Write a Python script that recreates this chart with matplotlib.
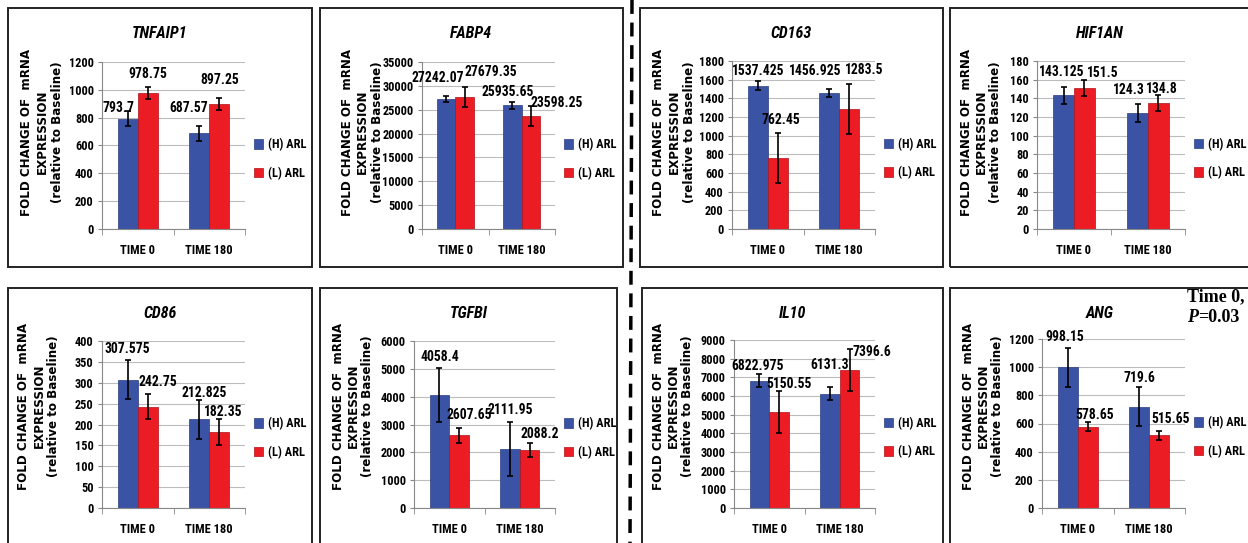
import matplotlib
matplotlib.use("Agg")
import matplotlib.pyplot as plt
from matplotlib import font_manager as fm
from matplotlib.patches import Rectangle
from matplotlib.lines import Line2D
import numpy as np

# data
genes = ['TNFAIP1', 'FABP4', 'CD163', 'HIF1AN', 'CD86', 'TGFBI', 'IL10', 'ANG']
times = ['TIME 0', 'TIME 180']
groups = ['(H) ARL', '(L) ARL']
h_arl = [[793.7, 687.57], [27242.07, 25935.65], [1537.425, 1456.925], [143.125, 124.3],
         [307.575, 212.825], [4058.4, 2111.95], [6822.975, 6131.3], [998.15, 719.6]]
l_arl = [[978.75, 897.25], [27679.35, 23598.25], [762.45, 1283.5], [151.5, 134.8],
         [242.75, 182.35], [2607.65, 2088.2], [5150.55, 7396.6], [578.65, 515.65]]
h_err = [[55, 55], [700, 700], [45, 45], [9.5, 10], [47, 47], [970, 980], [350, 350], [140, 140]]
l_err = [[45, 45], [2100, 2100], [265, 265], [8.5, 8.5], [30, 31], [260, 260], [1130, 1130], [33, 33]]
y_max = [1200, 35000, 1800, 180, 400, 6000, 9000, 1200]
y_step = [200, 5000, 200, 20, 50, 1000, 1000, 200]

# layout in pixels (x0, y0, x1, y1 from top-left)
W, H = 1248, 543
axes_px = [(102, 62, 245, 229), (422, 62, 555, 229), (732, 61, 875, 229), (1037, 61, 1185, 229),
           (102, 341, 245, 508), (414, 341, 555, 508), (734, 340, 875, 508), (1042, 339, 1185, 508)]
box_px = [(8, 8, 312, 267), (320, 8, 623, 267), (640, 8, 943, 267), (950, 8, 1262, 267),
          (8, 288, 312, 560), (320, 288, 617, 560), (642, 288, 943, 560), (950, 288, 1262, 560)]
ylab_dx = [34, 42, 34, 31, 31, 33, 31, 33]
# value-label nudges (dx, dy) in pixels from the top of each error bar: H0, L0, H180, L180
lab_off = [[(-9, 3), (0, 13), (-10, 18), (0, 18)],
           [(-8, 18), (26, 15), (-5, 10), (26, 3)],
           [(0, 10), (3, 13), (-14, 18), (15, 14)],
           [(-2, 15), (18, 7), (-9, 14), (3, 6)],
           [(0, 11), (10, 12), (5, 7), (4, 7)],
           [(0, 11), (10, 13), (0, 12), (10, 9)],
           [(-2, 8), (10, 7), (0, 22), (22, -3)],
           [(-3, 11), (7, 7), (0, 9), (11, 12)]]

# pick a narrow sans (Calibri-like) if one is installed
names = {f.name for f in fm.fontManager.ttflist}
cond = [f for f in fm.fontManager.ttflist if 'Condensed' in f.fname or 'Narrow' in f.fname]
narrow = None
for cand in ['Liberation Sans Narrow', 'Roboto Condensed', 'Open Sans Condensed']:
    if cand in names:
        narrow = cand
        break
stretch = 'normal'
if narrow is None and any(f.name == 'DejaVu Sans' for f in cond):
    narrow = 'DejaVu Sans'
    stretch = 'condensed'
if narrow is None:
    narrow = 'Roboto' if 'Roboto' in names else 'Liberation Sans'
plt.rcParams['font.family'] = [narrow, 'DejaVu Sans']
plt.rcParams['font.stretch'] = stretch

blue = '#3A53A4'
red = '#EC1C24'

fig = plt.figure(figsize=(W / 100, H / 100), dpi=100)

def fx(x):
    return x / W

def fy(y):
    return 1 - y / H

bw = 0.28
x = np.arange(len(times))

for i, g in enumerate(genes):
    x0, y0, x1, y1 = axes_px[i]
    ax = fig.add_axes([fx(x0), fy(y1), (x1 - x0) / W, (y1 - y0) / H])
    ax.bar(x - bw / 2, h_arl[i], bw, color=blue, edgecolor='#2a3d80', linewidth=0.5,
           label=groups[0], zorder=2)
    ax.bar(x + bw / 2, l_arl[i], bw, color=red, edgecolor='#b01018', linewidth=0.5,
           label=groups[1], zorder=2)
    ax.errorbar(x - bw / 2, h_arl[i], yerr=h_err[i], fmt='none', ecolor='black',
                elinewidth=1.2, capsize=2, capthick=1.2, zorder=3)
    ax.errorbar(x + bw / 2, l_arl[i], yerr=l_err[i], fmt='none', ecolor='black',
                elinewidth=1.2, capsize=2, capthick=1.2, zorder=3)

    ax.set_xlim(-0.5, 1.5)
    ax.set_ylim(0, y_max[i])
    ax.set_yticks(np.arange(0, y_max[i] + y_step[i] / 2, y_step[i]))
    ax.yaxis.grid(True, color='#bcbcbc', linewidth=0.8, zorder=0)
    ax.set_axisbelow(True)
    ax.set_xticks(x)
    ax.set_xticklabels(times, fontsize=9, fontweight='bold')
    ax.set_xticks([-0.5, 0.5, 1.5], minor=True)
    ax.tick_params(axis='x', which='major', length=0, pad=11)
    ax.tick_params(axis='x', which='minor', length=4, color='#888888')
    ax.tick_params(axis='y', labelsize=8.8, length=3, color='#888888', pad=3)
    for t in ax.get_yticklabels():
        t.set_fontweight('bold')
    for s in ['top', 'right']:
        ax.spines[s].set_visible(False)
    for s in ['left', 'bottom']:
        ax.spines[s].set_color('#888888')
        ax.spines[s].set_linewidth(0.8)

    # value labels
    vals = [h_arl[i][0], l_arl[i][0], h_arl[i][1], l_arl[i][1]]
    errs = [h_err[i][0], l_err[i][0], h_err[i][1], l_err[i][1]]
    xs = [x[0] - bw / 2, x[0] + bw / 2, x[1] - bw / 2, x[1] + bw / 2]
    for k in range(4):
        dx, dy = lab_off[i][k]
        ax.annotate(str(vals[k]), (xs[k], vals[k] + errs[k]), xytext=(dx, dy),
                    textcoords='offset pixels', ha='center', va='center',
                    fontsize=9.8, fontweight='bold', annotation_clip=False)

    ax.legend(loc='center left', bbox_to_anchor=(1.0, 0.42), frameon=False,
              prop={'size': 8.8, 'weight': 'bold'}, handlelength=0.8, handleheight=0.8,
              handletextpad=0.4, labelspacing=1.25, borderaxespad=0.3)

    # panel box, title and y label
    bx0, by0, bx1, by1 = box_px[i]
    fig.add_artist(Rectangle((fx(bx0), fy(by1)), (bx1 - bx0) / W, (by1 - by0) / H,
                             transform=fig.transFigure, fill=False, edgecolor='#222222',
                             linewidth=1.4))
    ty = 33 if i < 4 else 314
    tx = (bx0 + bx1) / 2 if i % 4 != 3 else 1100
    fig.text(fx(tx), fy(ty), g, ha='center', va='center', fontsize=11.5,
             fontweight='bold', style='italic')
    ly = 132 if i < 4 else 406
    fig.text(fx(bx0 + ylab_dx[i]), fy(ly),
             'FOLD CHANGE OF  mRNA\nEXPRESSION\n(relative to Baseline)',
             rotation=90, ha='center', va='center', multialignment='center',
             fontsize=8.6, fontweight='bold', family='DejaVu Sans', stretch='normal',
             linespacing=1.2)

# dashed divider between the two halves
fig.add_artist(Line2D([fx(632), fx(630)], [1, 0], transform=fig.transFigure, color='black',
                      linewidth=2.5, linestyle=(0, (4, 2.5))))

# p-value note on ANG panel
fig.text(fx(1187), fy(297), 'Time 0,', ha='left', va='center', fontsize=13,
         fontweight='bold', family='Liberation Serif', stretch='normal')
p = fig.text(fx(1187), fy(318), 'P', ha='left', va='center', fontsize=13,
             fontweight='bold', style='italic', family='Liberation Serif', stretch='normal')
plt.annotate('=0.03', xy=(1, 0), xycoords=p, xytext=(0, 0), textcoords='offset points',
             ha='left', va='bottom', fontsize=13, fontweight='bold',
             family='Liberation Serif', stretch='normal', annotation_clip=False)

fig.savefig('out.png', dpi=100)
